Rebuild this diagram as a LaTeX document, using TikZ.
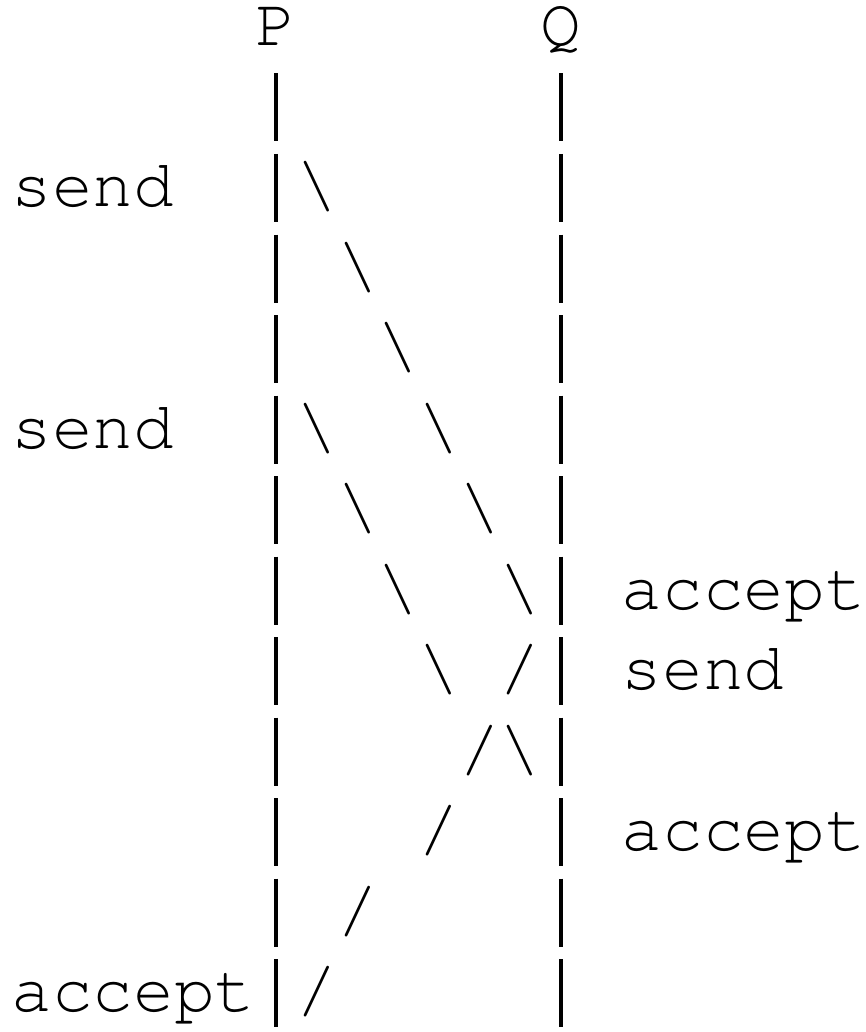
\documentclass[tikz,border=0pt]{standalone}
\usepackage{fontspec}
\newfontfamily\asciifont{TeX Gyre Cursor}
\usepackage{tikz}

\tikzset{
  cell/.style={anchor=base west, inner sep=0pt, outer sep=0pt,
    font=\asciifont\fontsize{67.8}{80}\selectfont},
  lifeline/.style={line width=3.3pt},
}

\begin{document}
\begin{tikzpicture}
\useasboundingbox (0,0) rectangle (866pt,-1032pt);
\begin{scope}[shift={(11.4pt,-45.5pt)}, x=40.7pt, y=-80.5pt]
% processes
\node[cell] (P) at (6,0) {P};
\node[cell] (Q) at (13,0) {Q};
% the "|" of each line
\foreach \r in {1,...,12} {
  \draw[lifeline] (6.5,\r) ++(0,52.5pt) -- ++(0,-68pt);
  \draw[lifeline] (13.5,\r) ++(0,52.5pt) -- ++(0,-68pt);
}

% events
\node[cell] (sendA) at (0,2) {send};
\node[cell] (sendB) at (0,5) {send};
\node[cell] (acceptA) at (15,7) {accept};
\node[cell] (sendC) at (15,8) {send};
\node[cell] (acceptB) at (15,10) {accept};
\node[cell] (acceptC) at (0,12) {accept};

% messages
\foreach \c/\r in {7/2, 8/3, 9/4, 10/5, 11/6, 12/7}
  \node[cell] (msgA\r) at (\c,\r) {\textbackslash};
\foreach \c/\r in {7/5, 8/6, 9/7, 10/8, 12/9}
  \node[cell] (msgB\r) at (\c,\r) {\textbackslash};
\foreach \c/\r in {12/8, 11/9, 10/10, 8/11, 7/12}
  \node[cell] (msgC\r) at (\c,\r) {/};
\end{scope}
\end{tikzpicture}
\end{document}
